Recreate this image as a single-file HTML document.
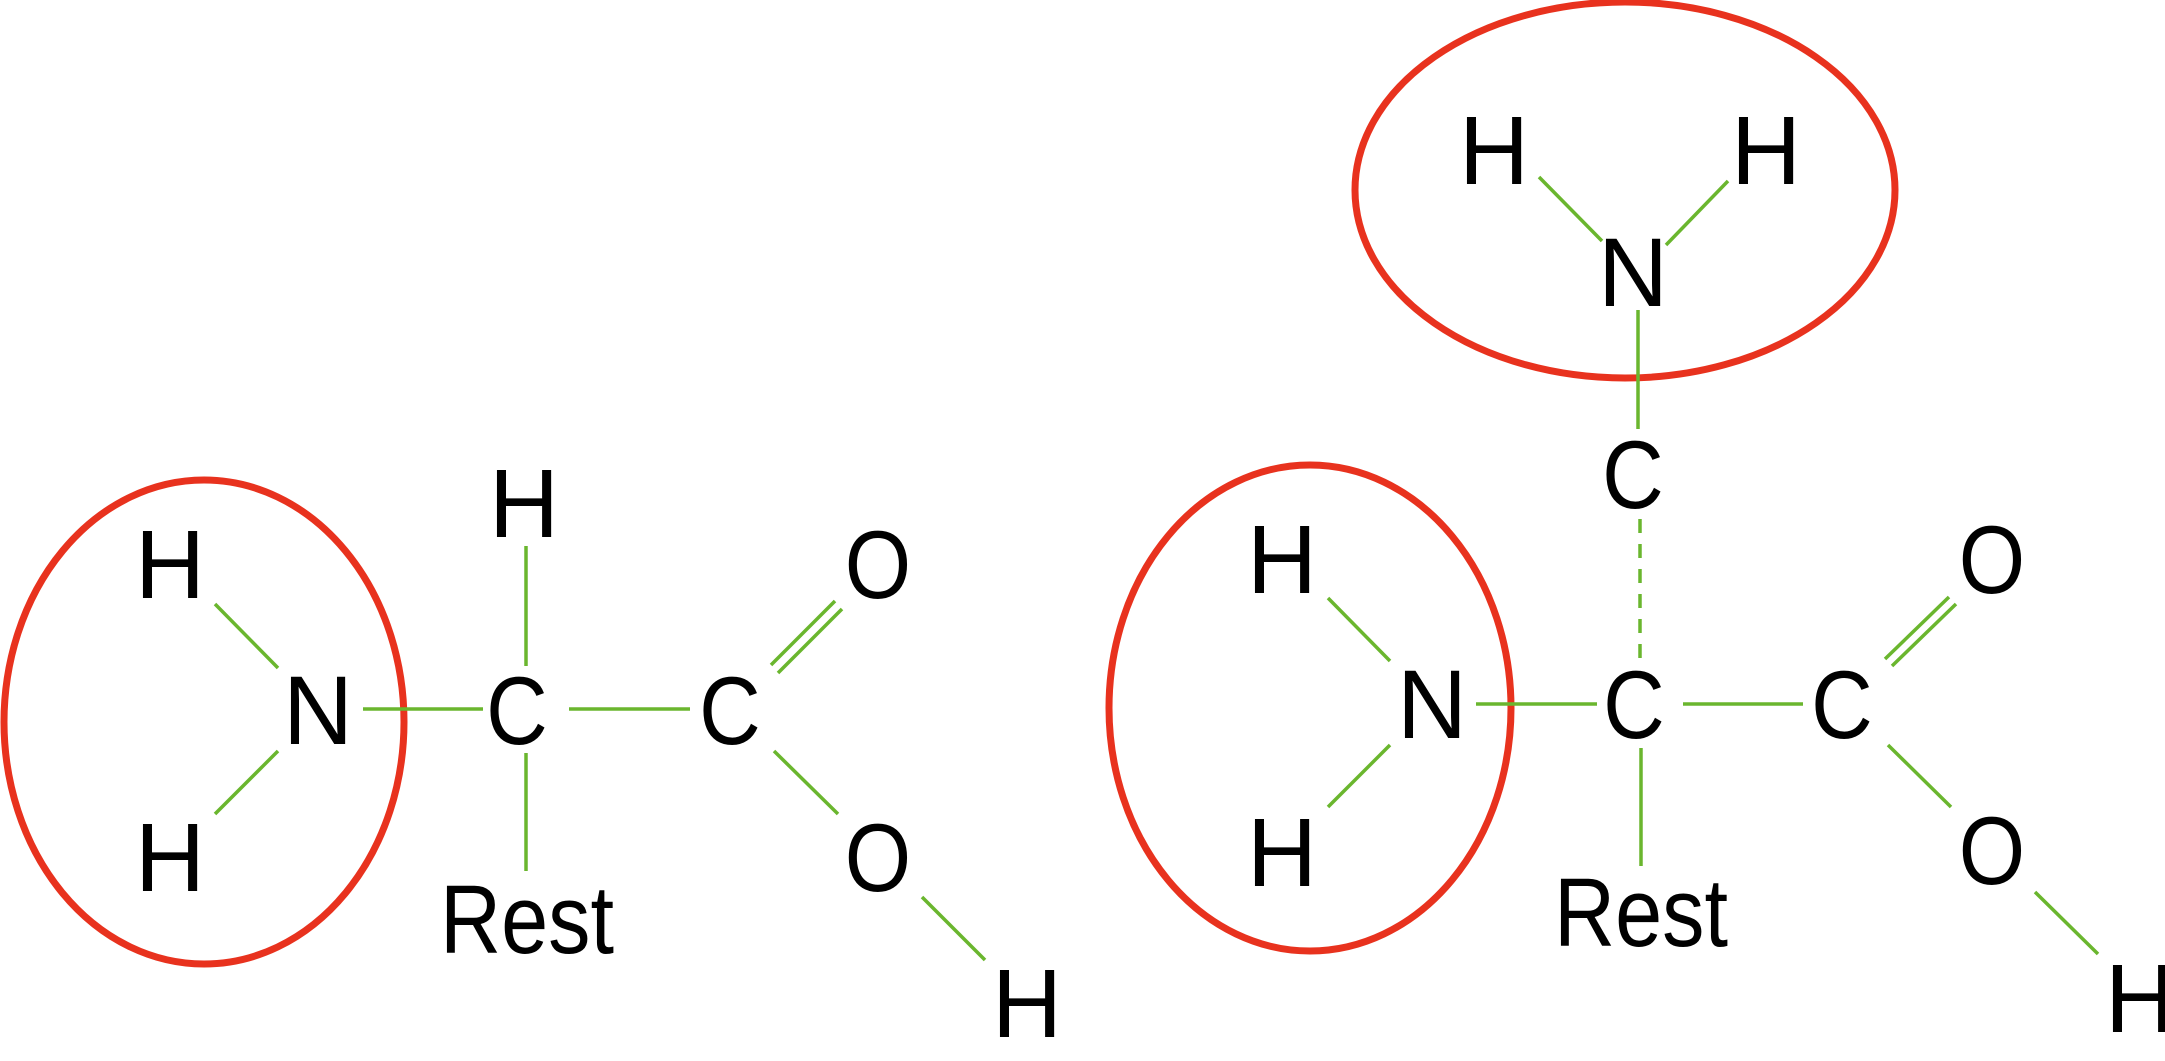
<!DOCTYPE html>
<html><head><meta charset="utf-8"><style>html,body{margin:0;padding:0;background:#fff;}svg{display:block}</style></head>
<body>
<svg width="2165" height="1061" viewBox="0 0 2165 1061" xmlns="http://www.w3.org/2000/svg">
<g fill="none" stroke="#e8321e" stroke-width="7">
<ellipse cx="204" cy="722" rx="200" ry="242"/>
<ellipse cx="1310" cy="708" rx="201" ry="243"/>
<ellipse cx="1625" cy="190" rx="270" ry="188"/>
</g>
<g stroke="#6ab62e" stroke-width="3.5" fill="none">
<line x1="215" y1="604" x2="278" y2="668"/>
<line x1="278" y1="751" x2="215" y2="814"/>
<line x1="363" y1="709" x2="483" y2="709"/>
<line x1="526" y1="546" x2="526" y2="666"/>
<line x1="526" y1="753" x2="526" y2="871"/>
<line x1="569" y1="709" x2="690" y2="709"/>
<line x1="771" y1="665" x2="835" y2="601"/>
<line x1="778" y1="673" x2="842" y2="609"/>
<line x1="774" y1="751" x2="838" y2="814"/>
<line x1="922" y1="897" x2="985" y2="960"/>

<line x1="1539" y1="177" x2="1602" y2="241"/>
<line x1="1728" y1="181" x2="1666" y2="245"/>
<line x1="1638" y1="310" x2="1638" y2="429"/>
<line x1="1640" y1="519" x2="1640" y2="661" stroke-dasharray="14 11"/>
<line x1="1328" y1="598" x2="1390" y2="661"/>
<line x1="1390" y1="745" x2="1328" y2="807"/>
<line x1="1476" y1="704" x2="1597" y2="704"/>
<line x1="1641" y1="748" x2="1641" y2="866"/>
<line x1="1683" y1="704" x2="1803" y2="704"/>
<line x1="1885" y1="659" x2="1949" y2="597"/>
<line x1="1892" y1="666" x2="1956" y2="604"/>
<line x1="1888" y1="745" x2="1951" y2="807"/>
<line x1="2035" y1="892" x2="2098" y2="954"/>
</g>
<g font-family="Liberation Sans, sans-serif" font-size="97" fill="#000" text-anchor="middle">
<text x="170" y="598">H</text>
<text x="318" y="744">N</text>
<text x="170" y="891">H</text>
<text x="524" y="537">H</text>
<g transform="translate(517,744) scale(0.88,1)"><text>C</text></g>
<g transform="translate(730,744) scale(0.88,1)"><text>C</text></g>
<g transform="translate(878,598) scale(0.88,1)"><text>O</text></g>
<g transform="translate(878,891) scale(0.88,1)"><text>O</text></g>
<text x="1027" y="1037">H</text>
<text x="527" y="953" textLength="174" lengthAdjust="spacingAndGlyphs">Rest</text>

<text x="1494" y="184">H</text>
<text x="1766" y="184">H</text>
<text x="1633" y="306">N</text>
<g transform="translate(1633,508) scale(0.88,1)"><text>C</text></g>
<text x="1282" y="593">H</text>
<text x="1432" y="738">N</text>
<text x="1282" y="886">H</text>
<g transform="translate(1634,738) scale(0.88,1)"><text>C</text></g>
<g transform="translate(1842,738) scale(0.88,1)"><text>C</text></g>
<g transform="translate(1992,593) scale(0.88,1)"><text>O</text></g>
<g transform="translate(1992,884) scale(0.88,1)"><text>O</text></g>
<text x="2140" y="1032">H</text>
<text x="1641" y="946" textLength="174" lengthAdjust="spacingAndGlyphs">Rest</text>
</g>
</svg>
</body></html>
